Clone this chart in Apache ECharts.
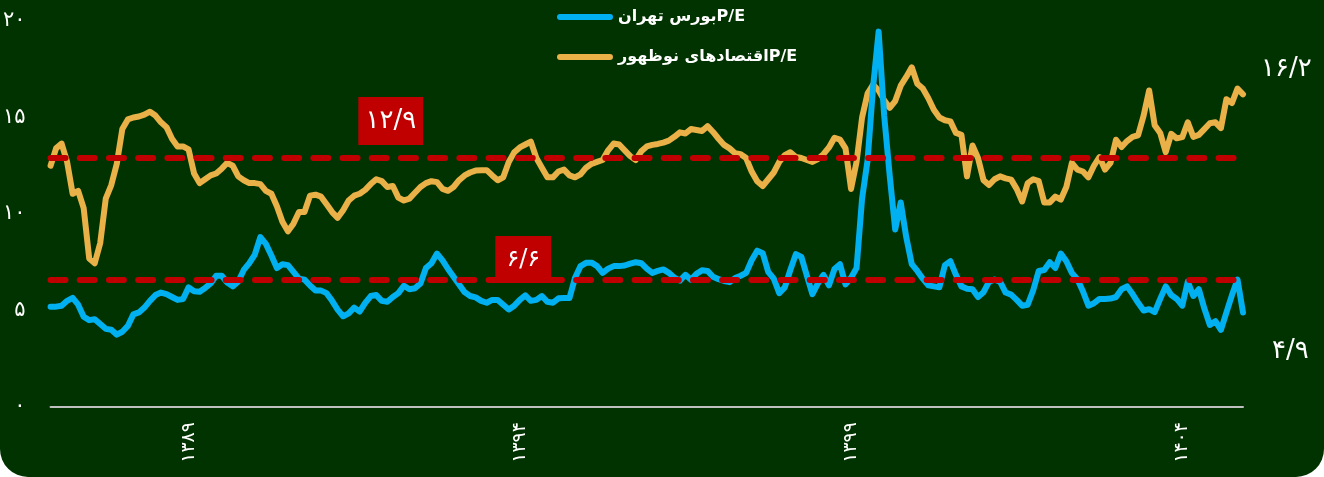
<!DOCTYPE html>
<html>
<head>
<meta charset="utf-8">
<script src="https://cdn.jsdelivr.net/npm/echarts@6/dist/echarts.min.js"></script>
<style>
  html, body { margin: 0; padding: 0; background: #ffffff; }
  #chart { width: 1324px; height: 477px; }
</style>
</head>
<body>
<div id="chart"></div>
<script>
// Monthly P/E ratios, starting 1386/12
const tehranPE = [
  5.2,5.2,5.25,5.5,5.65,5.3,4.68,4.5,4.55,4.3,
  4.05,4.0,3.75,3.9,4.2,4.8,4.9,5.15,5.5,5.8,
  5.93,5.85,5.7,5.55,5.6,6.2,6.0,5.97,6.17,6.4,
  6.8,6.8,6.45,6.25,6.5,7.1,7.45,7.9,8.8,8.45,
  7.85,7.2,7.4,7.35,7.0,6.65,6.6,6.3,6.04,6.03,
  5.9,5.5,5.05,4.7,4.85,5.15,4.95,5.4,5.75,5.8,
  5.5,5.45,5.7,5.9,6.28,6.1,6.15,6.4,7.2,7.45,
  7.95,7.6,7.15,6.75,6.35,5.95,5.75,5.68,5.5,5.4,
  5.55,5.55,5.3,5.05,5.25,5.55,5.78,5.5,5.55,5.75,
  5.45,5.4,5.63,5.65,5.65,6.7,7.3,7.47,7.48,7.3,
  6.95,7.17,7.3,7.3,7.33,7.43,7.5,7.45,7.17,6.95,
  7.05,7.13,6.95,6.7,6.55,6.85,6.6,6.9,7.08,7.05,
  6.75,6.62,6.53,6.47,6.68,6.8,6.95,7.6,8.1,7.97,
  7.0,6.65,5.9,6.2,7.1,7.92,7.78,6.8,5.85,6.4,
  6.85,6.3,7.15,7.4,6.35,6.7,7.2,10.8,12.8,16.6,
  19.45,15.1,12.0,9.2,10.6,8.8,7.4,7.05,6.65,6.3,
  6.25,6.2,7.35,7.55,6.85,6.25,6.13,6.1,5.7,5.95,
  6.5,6.6,6.5,5.93,5.82,5.55,5.25,5.3,6.05,7.05,
  7.1,7.5,7.2,7.95,7.55,6.95,6.62,6.0,5.25,5.38,
  5.6,5.6,5.62,5.7,6.1,6.25,5.85,5.4,5.0,5.07,
  4.92,5.6,6.25,5.8,5.6,5.25,6.5,5.75,6.1,5.1,
  4.25,4.45,4.0,4.9,5.8,6.6,4.9
];

const emergingPE = [
  12.5,13.4,13.65,12.7,11.05,11.2,10.3,7.7,7.45,8.5,
  10.8,11.5,12.6,14.4,14.9,15.0,15.05,15.15,15.3,15.1,
  14.75,14.5,13.9,13.5,13.5,13.35,12.1,11.6,11.8,12.0,
  12.1,12.35,12.65,12.5,11.95,11.75,11.6,11.6,11.55,11.2,
  11.05,10.4,9.6,9.1,9.5,10.1,10.1,10.95,11.0,10.9,
  10.5,10.1,9.8,10.2,10.7,10.95,11.05,11.25,11.55,11.8,
  11.7,11.4,11.45,10.85,10.7,10.8,11.1,11.4,11.6,11.7,
  11.65,11.3,11.2,11.4,11.75,12.0,12.15,12.25,12.27,12.27,
  12.0,11.75,11.9,12.7,13.2,13.45,13.6,13.75,12.9,12.4,
  11.9,11.9,12.2,12.3,12.0,11.9,12.05,12.4,12.6,12.7,
  12.8,13.3,13.65,13.6,13.3,13.0,12.8,13.25,13.5,13.58,
  13.63,13.7,13.8,14.0,14.23,14.17,14.4,14.35,14.3,14.55,
  14.25,13.9,13.58,13.4,13.15,13.1,12.9,12.2,11.7,11.45,
  11.8,12.15,12.7,13.05,13.2,12.95,12.9,12.8,12.7,12.85,
  13.1,13.45,13.95,13.85,13.4,11.3,12.7,15.0,16.25,16.7,
  16.4,15.9,15.5,15.85,16.65,17.1,17.6,16.75,16.5,16.0,
  15.4,15.0,14.86,14.8,14.2,14.1,11.95,13.55,12.9,11.75,
  11.5,11.8,11.95,11.85,11.78,11.3,10.65,11.6,11.8,11.7,
  10.6,10.6,10.9,10.75,11.4,12.65,12.3,12.2,11.9,12.5,
  12.95,12.3,12.65,13.85,13.47,13.78,14.0,14.08,15.1,16.4,
  14.6,14.2,13.2,14.15,13.92,13.98,14.75,14.0,14.1,14.4,
  14.7,14.75,14.45,15.95,15.75,16.5,16.2
];

// Long-run averages drawn as dashed reference lines
const tehranAvg = 6.6;
const emergingAvg = 12.9;

// Years labelled on the time axis
const yearLabels = ['1389', '1394', '1399', '1404'];

const seriesNames = {
  tehran: 'بورس تهرانP/E',
  emerging: 'اقتصادهای نوظهورP/E'
};

const startYear = 1386;
const startMonth = 12;

// Month categories (yyyy/mm) for every data point
const months = [];
for (let k = 0; k < tehranPE.length; k++) {
  const m = startMonth - 1 + k;
  months.push((startYear + Math.floor(m / 12)) + '/' + String(m % 12 + 1).padStart(2, '0'));
}

const FA_DIGITS = '۰۱۲۳۴۵۶۷۸۹';
function faNum(v) {
  return String(v).replace(/\d/g, d => FA_DIGITS[d]).replace('.', '/');
}

const BG = '#003300';
const BLUE = '#00B0F0';
const GOLD = '#E9B148';
const RED = '#C00000';
const FONT = "'DejaVu Sans', 'Noto Sans', sans-serif";

const chart = echarts.init(document.getElementById('chart'), null, { renderer: 'canvas' });

const avgLine = value => ({
  silent: true,
  symbol: 'none',
  label: { show: false },
  lineStyle: { color: RED, width: 6, type: [15, 14.2], cap: 'round' },
  data: [{ yAxis: value }]
});

const avgBadge = (value, catIndex, size, offset, fontSize) => ({
  silent: true,
  symbol: 'rect',
  symbolSize: size,
  itemStyle: { color: RED },
  label: {
    show: true,
    position: 'inside',
    color: '#ffffff',
    fontSize: fontSize,
    fontFamily: FONT,
    formatter: () => faNum(value)
  },
  data: [{ coord: [months[catIndex], value], symbolOffset: offset }]
});

chart.setOption({
  backgroundColor: 'transparent',
  animation: false,
  graphic: [{
    type: 'rect',
    z: -100,
    silent: true,
    shape: { x: 0, y: 0, width: 1324, height: 477, r: [0, 0, 28, 28] },
    style: { fill: BG }
  }],
  grid: { left: 50, right: 81, top: 21, bottom: 70 },
  legend: {
    orient: 'vertical',
    left: 557,
    top: 7,
    padding: 0,
    itemGap: 20,
    itemWidth: 56,
    itemHeight: 7,
    icon: 'path://M3,0H53A3,3 0 0 1 53,6H3A3,3 0 0 1 3,0Z',
    data: [seriesNames.tehran, seriesNames.emerging],
    textStyle: { color: '#ffffff', fontSize: 16, fontWeight: 'bold', fontFamily: FONT, lineHeight: 20 }
  },
  xAxis: {
    type: 'category',
    data: months,
    boundaryGap: false,
    axisLine: { lineStyle: { color: '#bfbfbf', width: 2 } },
    axisTick: { show: false },
    splitLine: { show: false },
    axisLabel: {
      interval: (idx, val) => val.endsWith('/01') && yearLabels.includes(val.slice(0, 4)),
      formatter: val => faNum(val.slice(0, 4)),
      rotate: 90,
      margin: 15,
      color: '#ffffff',
      fontSize: 19,
      fontFamily: FONT
    }
  },
  yAxis: {
    type: 'value',
    min: 0,
    max: 20,
    interval: 5,
    axisLine: { show: false },
    axisTick: { show: false },
    splitLine: { show: false },
    axisLabel: {
      margin: 25,
      color: '#ffffff',
      fontSize: 21,
      fontFamily: FONT,
      formatter: v => faNum(v)
    }
  },
  series: [
    {
      name: seriesNames.emerging,
      type: 'line',
      data: emergingPE,
      symbol: 'none',
      color: GOLD,
      z: 2,
      lineStyle: { width: 6, color: GOLD, cap: 'round', join: 'round' },
      endLabel: {
        show: true,
        formatter: p => faNum(p.value),
        color: '#ffffff',
        fontSize: 26,
        fontFamily: FONT,
        offset: [10, -25]
      },
      markLine: avgLine(emergingAvg),
      markPoint: avgBadge(emergingAvg, 62, [65, 48], [-2, -37], 26)
    },
    {
      name: seriesNames.tehran,
      type: 'line',
      data: tehranPE,
      symbol: 'none',
      color: BLUE,
      z: 3,
      lineStyle: { width: 6, color: BLUE, cap: 'round', join: 'round' },
      endLabel: {
        show: true,
        formatter: p => faNum(p.value),
        color: '#ffffff',
        fontSize: 26,
        fontFamily: FONT,
        offset: [21, 39]
      },
      markLine: avgLine(tehranAvg),
      markPoint: avgBadge(tehranAvg, 86, [56, 47], [-2, -20], 24)
    }
  ]
});
</script>
</body>
</html>
